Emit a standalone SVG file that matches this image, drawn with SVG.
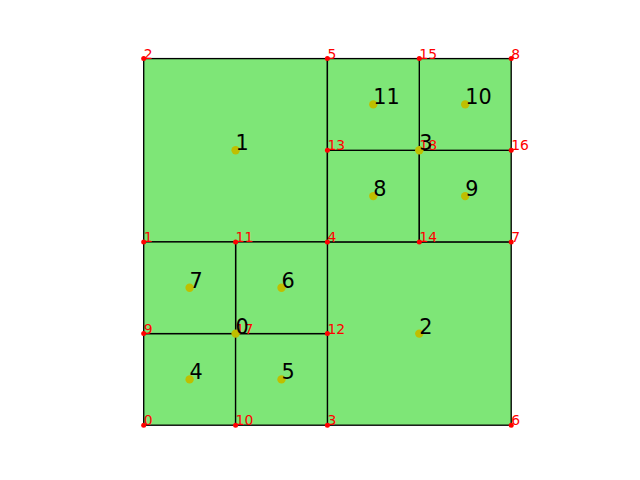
<svg xmlns="http://www.w3.org/2000/svg" width="640" height="480" viewBox="0 0 640 480">
<style>
.cell{fill:#7ee677;stroke:#000;stroke-width:1.35}
.v{fill:#ff0000}
.vl{fill:#ff0000;font-family:"DejaVu Sans",sans-serif;font-size:13.9px}
.c{fill:#bfbf00}
.cl{fill:#000;font-family:"DejaVu Sans",sans-serif;font-size:20.8px}
</style>
<rect width="640" height="480" fill="#fff"/>
<g id="cells">
<g id="cell-1"><rect class="cell" x="143.7" y="58.6" width="183.7" height="183.3"/></g>
<g id="cell-2"><rect class="cell" x="327.4" y="241.9" width="183.8" height="183.3"/></g>
<g id="cell-4"><rect class="cell" x="143.7" y="333.6" width="91.9" height="91.6"/></g>
<g id="cell-5"><rect class="cell" x="235.6" y="333.6" width="91.8" height="91.6"/></g>
<g id="cell-6"><rect class="cell" x="235.6" y="241.9" width="91.8" height="91.7"/></g>
<g id="cell-7"><rect class="cell" x="143.7" y="241.9" width="91.9" height="91.7"/></g>
<g id="cell-8"><rect class="cell" x="327.4" y="150.3" width="91.9" height="91.6"/></g>
<g id="cell-9"><rect class="cell" x="419.3" y="150.3" width="91.9" height="91.6"/></g>
<g id="cell-10"><rect class="cell" x="419.3" y="58.6" width="91.9" height="91.7"/></g>
<g id="cell-11"><rect class="cell" x="327.4" y="58.6" width="91.9" height="91.7"/></g>
</g>
<g id="connectors"></g>
<g id="vertices">
<g id="v0"><circle class="v" cx="143.7" cy="425.2" r="2.5"/><text class="vl" x="143.7" y="425.2">0</text></g>
<g id="v1"><circle class="v" cx="143.7" cy="241.9" r="2.5"/><text class="vl" x="143.7" y="241.9">1</text></g>
<g id="v2"><circle class="v" cx="143.7" cy="58.6" r="2.5"/><text class="vl" x="143.7" y="58.6">2</text></g>
<g id="v3"><circle class="v" cx="327.4" cy="425.2" r="2.5"/><text class="vl" x="327.4" y="425.2">3</text></g>
<g id="v4"><circle class="v" cx="327.4" cy="241.9" r="2.5"/><text class="vl" x="327.4" y="241.9">4</text></g>
<g id="v5"><circle class="v" cx="327.4" cy="58.6" r="2.5"/><text class="vl" x="327.4" y="58.6">5</text></g>
<g id="v6"><circle class="v" cx="511.2" cy="425.2" r="2.5"/><text class="vl" x="511.2" y="425.2">6</text></g>
<g id="v7"><circle class="v" cx="511.2" cy="241.9" r="2.5"/><text class="vl" x="511.2" y="241.9">7</text></g>
<g id="v8"><circle class="v" cx="511.2" cy="58.6" r="2.5"/><text class="vl" x="511.2" y="58.6">8</text></g>
<g id="v9"><circle class="v" cx="143.7" cy="333.6" r="2.5"/><text class="vl" x="143.7" y="333.6">9</text></g>
<g id="v10"><circle class="v" cx="235.6" cy="425.2" r="2.5"/><text class="vl" x="235.6" y="425.2">10</text></g>
<g id="v11"><circle class="v" cx="235.6" cy="241.9" r="2.5"/><text class="vl" x="235.6" y="241.9">11</text></g>
<g id="v12"><circle class="v" cx="327.4" cy="333.6" r="2.5"/><text class="vl" x="327.4" y="333.6">12</text></g>
<g id="v13"><circle class="v" cx="327.4" cy="150.3" r="2.5"/><text class="vl" x="327.4" y="150.3">13</text></g>
<g id="v14"><circle class="v" cx="419.3" cy="241.9" r="2.5"/><text class="vl" x="419.3" y="241.9">14</text></g>
<g id="v15"><circle class="v" cx="419.3" cy="58.6" r="2.5"/><text class="vl" x="419.3" y="58.6">15</text></g>
<g id="v16"><circle class="v" cx="511.2" cy="150.3" r="2.5"/><text class="vl" x="511.2" y="150.3">16</text></g>
<g id="v17"><circle class="v" cx="235.6" cy="333.6" r="2.5"/><text class="vl" x="235.6" y="333.6">17</text></g>
<g id="v18"><circle class="v" cx="419.3" cy="150.3" r="2.5"/><text class="vl" x="419.3" y="150.3">18</text></g>
</g>
<g id="centers">
<g id="c0"><circle class="c" cx="235.6" cy="333.6" r="4.2"/><text class="cl" x="235.6" y="333.6">0</text></g>
<g id="c1"><circle class="c" cx="235.6" cy="150.3" r="4.2"/><text class="cl" x="235.6" y="150.3">1</text></g>
<g id="c2"><circle class="c" cx="419.3" cy="333.6" r="4.2"/><text class="cl" x="419.3" y="333.6">2</text></g>
<g id="c3"><circle class="c" cx="419.3" cy="150.3" r="4.2"/><text class="cl" x="419.3" y="150.3">3</text></g>
<g id="c4"><circle class="c" cx="189.6" cy="379.4" r="4.2"/><text class="cl" x="189.6" y="379.4">4</text></g>
<g id="c5"><circle class="c" cx="281.5" cy="379.4" r="4.2"/><text class="cl" x="281.5" y="379.4">5</text></g>
<g id="c6"><circle class="c" cx="281.5" cy="287.7" r="4.2"/><text class="cl" x="281.5" y="287.7">6</text></g>
<g id="c7"><circle class="c" cx="189.6" cy="287.7" r="4.2"/><text class="cl" x="189.6" y="287.7">7</text></g>
<g id="c8"><circle class="c" cx="373.3" cy="196.1" r="4.2"/><text class="cl" x="373.3" y="196.1">8</text></g>
<g id="c9"><circle class="c" cx="465.2" cy="196.1" r="4.2"/><text class="cl" x="465.2" y="196.1">9</text></g>
<g id="c10"><circle class="c" cx="465.2" cy="104.4" r="4.2"/><text class="cl" x="465.2" y="104.4">10</text></g>
<g id="c11"><circle class="c" cx="373.3" cy="104.4" r="4.2"/><text class="cl" x="373.3" y="104.4">11</text></g>
</g>
</svg>
